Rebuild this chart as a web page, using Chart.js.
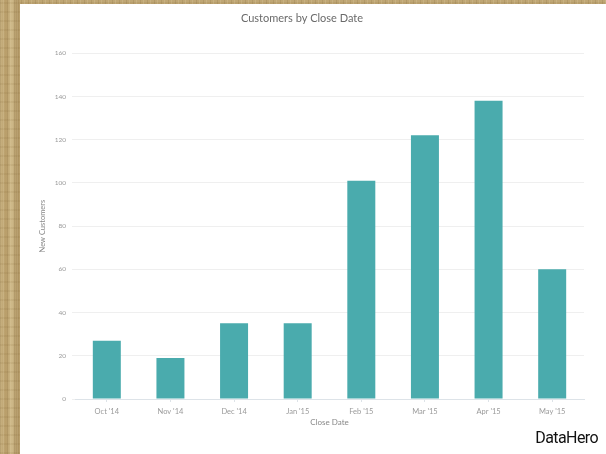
<!DOCTYPE html>
<html>
<head>
<meta charset="utf-8">
<script src="https://cdn.jsdelivr.net/npm/chart.js@4"></script>
<style>
  html, body { margin: 0; padding: 0; }
  body {
    width: 606px;
    height: 454px;
    overflow: hidden;
    position: relative;
    /* wooden frame behind the card */
    background:
      repeating-linear-gradient(90deg, rgba(110,84,40,0.16) 0 1px, rgba(0,0,0,0) 1px 3px, rgba(255,245,210,0.14) 3px 4px, rgba(0,0,0,0) 4px 7px),
      repeating-linear-gradient(0deg, rgba(120,90,40,0.10) 0 2px, rgba(0,0,0,0) 2px 9px),
      linear-gradient(90deg, #c9b383 0, #b89d69 6px, #d0bb8b 12px, #a98e5c 18px, #bfa674 20px),
      #bea470;
  }
  #card {
    position: absolute;
    left: 20px;
    top: 4px;
    width: 586px;
    height: 450px;
    background: #fff;
  }
  #chart { position: absolute; left: 0; top: 0; }
  #logo {
    position: absolute;
    right: 8px;
    bottom: 7px;
    font-family: Roboto, sans-serif;
    font-size: 16px;
    letter-spacing: -0.6px;
    color: #111;
  }
</style>
</head>
<body>
<div id="card">
  <canvas id="chart" width="586" height="450"></canvas>
  <div id="logo">DataHero</div>
</div>
<script>
const months = ["Oct '14", "Nov '14", "Dec '14", "Jan '15", "Feb '15", "Mar '15", "Apr '15", "May '15"];
const newCustomers = [27, 19, 35, 35, 101, 122, 138, 60];
const yTicks = [0, 20, 40, 60, 80, 100, 120, 140, 160];

const teal = '#4aabad';
const tickGrey = '#9a9a9a';

new Chart(document.getElementById('chart'), {
  type: 'bar',
  data: {
    labels: months,
    datasets: [{
      data: newCustomers,
      backgroundColor: teal,
      borderWidth: 0,
      barPercentage: 0.88,
      categoryPercentage: 0.5
    }]
  },
  options: {
    responsive: false,
    animation: false,
    layout: { padding: { left: 0, right: 22, top: 0, bottom: 27 } },
    plugins: {
      legend: { display: false },
      tooltip: { enabled: false },
      title: {
        display: true,
        text: 'Customers by Close Date',
        color: '#6a6a6a',
        font: { family: 'Lato', size: 11, weight: 'normal' },
        padding: { top: 8, bottom: 28 }
      }
    },
    scales: {
      x: {
        grid: {
          display: true,
          drawOnChartArea: false,
          drawTicks: true,
          tickLength: 3,
          offset: false,
          color: '#dde3e8'
        },
        border: { display: true, color: '#dde3e8' },
        ticks: {
          color: tickGrey,
          font: { family: 'Lato', size: 7.5 },
          padding: 5,
          maxRotation: 0
        },
        title: {
          display: true,
          text: 'Close Date',
          color: '#888',
          font: { family: 'Lato', size: 8 },
          padding: { top: 0, bottom: 0 }
        },
        afterFit(scale) { scale.height = 28; }
      },
      y: {
        min: 0,
        max: 160,
        afterBuildTicks(scale) { scale.ticks = yTicks.map(v => ({ value: v })); },
        grid: {
          color: '#efefef',
          tickLength: 3,
          drawTicks: true
        },
        border: { display: false },
        ticks: {
          color: tickGrey,
          font: { family: 'Lato', size: 6.5 },
          padding: 6
        },
        title: {
          display: true,
          text: 'New Customers',
          color: '#888',
          font: { family: 'Lato', size: 7.5 },
          padding: { top: 18, bottom: 0 }
        },
        afterFit(scale) { scale.width = 55; }
      }
    }
  }
});
</script>
</body>
</html>
